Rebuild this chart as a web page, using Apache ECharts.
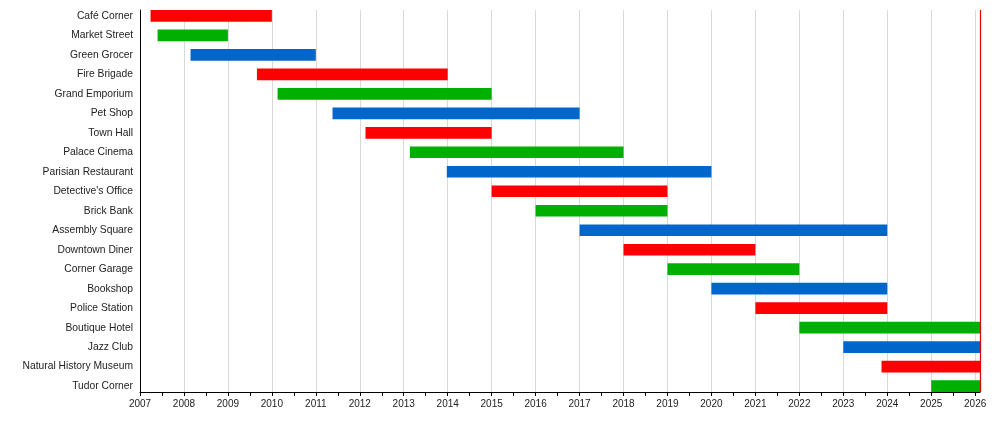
<!DOCTYPE html>
<html>
<head>
<meta charset="utf-8">
<script src="https://cdn.jsdelivr.net/npm/echarts@6/dist/echarts.min.js"></script>
<style>
    html, body { margin: 0; padding: 0; background: #fff; }
    #timeline { width: 1000px; height: 440px; }
</style>
</head>
<body>
<div id="timeline"></div>
<script>
// buildings, in release order (top to bottom)
const buildings = [
    'Café Corner', 'Market Street', 'Green Grocer', 'Fire Brigade', 'Grand Emporium',
    'Pet Shop', 'Town Hall', 'Palace Cinema', 'Parisian Restaurant', "Detective's Office",
    'Brick Bank', 'Assembly Square', 'Downtown Diner', 'Corner Garage', 'Bookshop',
    'Police Station', 'Boutique Hotel', 'Jazz Club', 'Natural History Museum', 'Tudor Corner'
];
// available from (decimal year)
const startYear = [
    2007.24, 2007.40, 2008.15, 2009.66, 2010.13,
    2011.38, 2012.13, 2013.14, 2013.98, 2015.0,
    2016.0, 2017.0, 2018.0, 2019.0, 2020.0,
    2021.0, 2022.0, 2023.0, 2023.87, 2025.0
];
// retired (null = still available)
const endYear = [
    2010.0, 2009.0, 2011.0, 2014.0, 2015.0,
    2017.0, 2015.0, 2018.0, 2020.0, 2019.0,
    2019.0, 2024.0, 2021.0, 2022.0, 2024.0,
    2024.0, null, null, null, null
];
const years = [
    2007, 2008, 2009, 2010, 2011, 2012, 2013, 2014, 2015, 2016,
    2017, 2018, 2019, 2020, 2021, 2022, 2023, 2024, 2025, 2026
];
const today = 2026.11;
const colors = ['#ff0000', '#00b000', '#0066cc'];

let rows = buildings.map(function (name, i) {
    return [startYear[i], endYear[i] === null ? today : endYear[i], i];
});
let halfYears = [];
years.forEach(function (y) {
    if (y + 0.5 < today) halfYears.push(y + 0.5);
});

function renderBar(params, api) {
    let row = api.value(2);
    let h = api.size([0, 1])[1] * 0.6;
    let a = api.coord([api.value(0), row]);
    let b = api.coord([api.value(1), row]);
    return {
        type: 'rect',
        shape: { x: a[0], y: a[1] - h / 2, width: b[0] - a[0], height: h },
        style: { fill: colors[row % 3] }
    };
}

let chartDom = document.getElementById('timeline');
let myChart = echarts.init(chartDom);
let option = {
    animation: false,
    grid: {
        left: 140,
        right: 20,
        top: 10,
        bottom: 48
    },
    xAxis: [
        {
            type: 'value',
            position: 'bottom',
            min: 2007,
            max: today,
            interval: 1,
            axisLine: { show: true, onZero: false, lineStyle: { color: '#000', width: 1 } },
            axisTick: {
                show: true,
                length: 4,
                customValues: years,
                lineStyle: { color: '#000' }
            },
            axisLabel: {
                customValues: years,
                formatter: function (value) {
                    return String(value);
                },
                margin: 7,
                color: '#222',
                fontSize: 10,
                fontFamily: 'Liberation Sans'
            },
            splitLine: { show: true, lineStyle: { color: '#d9d9d9', width: 1 } }
        },
        {
            // half-year ticks only
            type: 'value',
            position: 'bottom',
            min: 2007,
            max: today,
            axisLine: { show: false, onZero: false },
            axisTick: {
                show: true,
                length: 4,
                customValues: halfYears,
                lineStyle: { color: '#000' }
            },
            axisLabel: { show: false },
            splitLine: { show: false }
        }
    ],
    yAxis: {
        type: 'value',
        inverse: true,
        min: -0.3,
        max: 19.3,
        axisLine: { show: true, lineStyle: { color: '#000', width: 1 } },
        axisTick: { show: false },
        splitLine: { show: false },
        axisLabel: {
            customValues: buildings.map(function (n, i) { return i; }),
            formatter: function (value) {
                return buildings[Math.round(value)];
            },
            margin: 7,
            color: '#222',
            fontSize: 10.3,
            fontFamily: 'Liberation Sans'
        }
    },
    series: [
        {
            type: 'custom',
            xAxisIndex: 0,
            renderItem: renderBar,
            encode: { x: [0, 1], y: 2 },
            data: rows,
            markLine: {
                silent: true,
                symbol: 'none',
                label: { show: false },
                lineStyle: { color: '#e00000', width: 1.2, type: 'solid' },
                data: [{ xAxis: today }]
            }
        }
    ]
};
option && myChart.setOption(option);
</script>
</body>
</html>
